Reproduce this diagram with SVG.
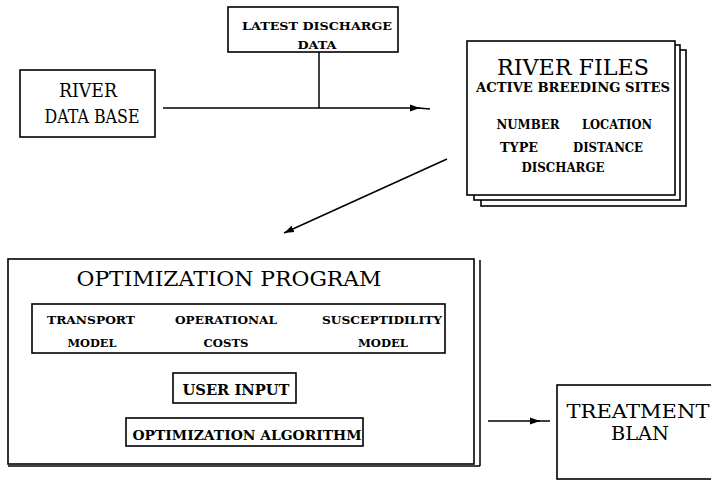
<svg xmlns="http://www.w3.org/2000/svg" width="711" height="481" viewBox="0 0 711 481">
<defs>
<style>
.box{fill:#fff;stroke:#000;stroke-width:1.6}
.ln{fill:none;stroke:#000;stroke-width:1.5}
.big{font-family:"DejaVu Serif","Liberation Serif",serif;font-weight:normal;fill:#000;text-anchor:middle}
.sm{font-family:"DejaVu Serif","Liberation Serif",serif;font-weight:bold;fill:#000;text-anchor:middle}
</style>
<marker id="ah" markerWidth="12" markerHeight="8" refX="10" refY="4" orient="auto" markerUnits="userSpaceOnUse">
<path d="M0,0.5 L10,4 L0,7.5 z" fill="#000"/>
</marker>
</defs>
<rect width="711" height="481" fill="#fff"/>

<g id="connectors">
<line class="ln" x1="319" y1="52" x2="319" y2="108"/>
<line class="ln" x1="163" y1="108" x2="420" y2="108" marker-end="url(#ah)"/>
<line class="ln" x1="418" y1="108" x2="430" y2="109"/>
<line class="ln" x1="447" y1="159" x2="284" y2="233" marker-end="url(#ah)"/>
<line class="ln" x1="238" y1="353" x2="238" y2="373"/>
<line class="ln" x1="238" y1="403" x2="238" y2="418"/>
<line class="ln" x1="488" y1="421" x2="540" y2="421" marker-end="url(#ah)" stroke-width="1"/>
<line class="ln" x1="538" y1="421" x2="550" y2="421"/>
</g>

<g id="river-data-base">
<rect class="box" x="20" y="70" width="135" height="67"/>
<text class="big" x="88" y="97" font-size="19" textLength="58" lengthAdjust="spacingAndGlyphs">RIVER</text>
<text class="big" x="92" y="123" font-size="19" textLength="95" lengthAdjust="spacingAndGlyphs">DATA BASE</text>
</g>

<g id="latest-discharge-data">
<rect class="box" x="228" y="7" width="170" height="45"/>
<text class="sm" x="317" y="30" font-size="11.5" textLength="150" lengthAdjust="spacingAndGlyphs">LATEST DISCHARGE</text>
<text class="sm" x="317" y="49" font-size="11.5" textLength="39" lengthAdjust="spacingAndGlyphs">DATA</text>
</g>

<g id="river-files">
<rect class="box" x="481" y="50" width="205" height="156"/>
<rect class="box" x="474" y="45" width="206" height="155"/>
<rect class="box" x="467" y="41" width="208" height="154"/>
<text class="big" x="573" y="75" font-size="23" textLength="152" lengthAdjust="spacingAndGlyphs">RIVER FILES</text>
<text class="sm" x="573" y="92" font-size="13.5" textLength="194" lengthAdjust="spacingAndGlyphs">ACTIVE BREEDING SITES</text>
<text class="sm" x="528" y="129" font-size="12.5" textLength="63" lengthAdjust="spacingAndGlyphs">NUMBER</text>
<text class="sm" x="617" y="129" font-size="12.5" textLength="70" lengthAdjust="spacingAndGlyphs">LOCATION</text>
<text class="sm" x="519" y="152" font-size="12.5" textLength="38" lengthAdjust="spacingAndGlyphs">TYPE</text>
<text class="sm" x="608" y="152" font-size="12.5" textLength="70" lengthAdjust="spacingAndGlyphs">DISTANCE</text>
<text class="sm" x="563" y="172" font-size="12.5" textLength="83" lengthAdjust="spacingAndGlyphs">DISCHARGE</text>
</g>

<g id="optimization-program">
<rect class="box" x="8" y="259" width="466" height="205"/>
<line class="ln" x1="480" y1="260" x2="480" y2="466"/>
<line class="ln" x1="8" y1="466" x2="480" y2="466"/>
<text class="big" x="229" y="286" font-size="21" textLength="305" lengthAdjust="spacingAndGlyphs">OPTIMIZATION PROGRAM</text>
</g>

<g id="models">
<rect class="box" x="32" y="304" width="413" height="49"/>
<text class="sm" x="91" y="324" font-size="11.5" textLength="88" lengthAdjust="spacingAndGlyphs">TRANSPORT</text>
<text class="sm" x="92" y="347" font-size="11.5" textLength="49" lengthAdjust="spacingAndGlyphs">MODEL</text>
<text class="sm" x="226" y="324" font-size="11.5" textLength="102" lengthAdjust="spacingAndGlyphs">OPERATIONAL</text>
<text class="sm" x="226" y="347" font-size="11.5" textLength="45" lengthAdjust="spacingAndGlyphs">COSTS</text>
<text class="sm" x="382" y="324" font-size="11.5" textLength="120" lengthAdjust="spacingAndGlyphs">SUSCEPTIDILITY</text>
<text class="sm" x="383" y="347" font-size="11.5" textLength="50" lengthAdjust="spacingAndGlyphs">MODEL</text>
</g>

<g id="user-input">
<rect class="box" x="173" y="373" width="123" height="30"/>
<text class="sm" x="236" y="395" font-size="14.5" textLength="107" lengthAdjust="spacingAndGlyphs">USER INPUT</text>
</g>

<g id="optimization-algorithm">
<rect class="box" x="126" y="418" width="237" height="28"/>
<text class="sm" x="247" y="440" font-size="13.5" textLength="229" lengthAdjust="spacingAndGlyphs">OPTIMIZATION ALGORITHM</text>
</g>

<g id="treatment-plan">
<rect class="box" x="557" y="385" width="170" height="94"/>
<text class="big" x="638" y="418" font-size="18" textLength="143" lengthAdjust="spacingAndGlyphs">TREATMENT</text>
<text class="big" x="640" y="440" font-size="18" textLength="58" lengthAdjust="spacingAndGlyphs">BLAN</text>
</g>
</svg>
